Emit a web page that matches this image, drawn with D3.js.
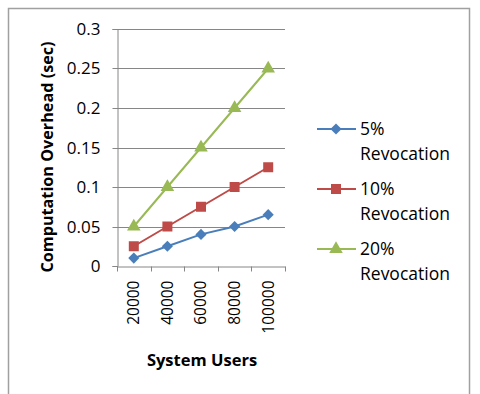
<!DOCTYPE html>
<html><head><meta charset="utf-8">
<script src="https://cdn.jsdelivr.net/npm/d3@7"></script>
<style>body{margin:0;background:#fff}svg{display:block}</style>
</head><body>
<svg id="c" width="480" height="394"></svg>
<script>
const categories = ["20000","40000","60000","80000","100000"];
const seriesNames = [["5%","Revocation"],["10%","Revocation"],["20%","Revocation"]];
const rev5 = [0.01,0.025,0.04,0.05,0.065];
const rev10 = [0.025,0.05,0.075,0.1,0.125];
const rev20 = [0.05,0.1,0.15,0.2,0.25];
const yTicks = [0,0.05,0.1,0.15,0.2,0.25,0.3];
const yTickLabels = ["0","0.05","0.1","0.15","0.2","0.25","0.3"];

const colors = ["#4A7EBB","#BE4B48","#98B954"];
const symbols = [d3.symbolSquare, d3.symbolSquare, d3.symbolTriangle];
const symSizes = [62, 100, 80];
const symRot = [45, 0, 0];
const font = "'Open Sans', sans-serif";

const svg = d3.select("#c");
svg.append("rect").attr("x",8.5).attr("y",8.5).attr("width",461).attr("height",400)
  .attr("fill","none").attr("stroke","#a0a0a0").attr("stroke-width",1.5);

const x = d3.scaleBand().domain(categories).range([117,285]);
const y = d3.scaleLinear().domain([0,0.3]).range([266,29]);

// gridlines
svg.append("g").selectAll("line").data(yTicks.slice(1)).join("line")
  .attr("x1",117).attr("x2",285).attr("y1",d=>Math.round(y(d))+0.5).attr("y2",d=>Math.round(y(d))+0.5)
  .attr("stroke","#868686").attr("stroke-width",1);

// y axis
const yAxis = d3.axisLeft(y).tickValues(yTicks).tickFormat((d,i)=>yTickLabels[i]).tickSize(5).tickPadding(12);
const gy = svg.append("g").attr("transform","translate(117.5,0)").call(yAxis);
gy.select(".domain").attr("stroke","#868686");
gy.selectAll(".tick line").attr("stroke","#868686");
gy.selectAll(".tick").attr("transform",d=>`translate(0,${Math.round(y(d))+0.5})`);
gy.selectAll("text").attr("font-family",font).attr("font-size",17).attr("fill","#000");

// x axis
const xAxis = d3.axisBottom(x).tickSize(0).tickFormat(d=>d);
const gx = svg.append("g").attr("transform","translate(0,266.5)").call(xAxis);
gx.select(".domain").attr("stroke","#868686");
gx.selectAll(".tick text").attr("font-family",font).attr("font-size",15.5).attr("fill","#000")
  .attr("transform","rotate(-90)").attr("text-anchor","end").attr("x",-14).attr("y",0).attr("dy","0.35em");
const bounds = categories.map(c=>x(c)).concat([x.range()[1]]);
gx.append("g").selectAll("line").data(bounds).join("line")
  .attr("x1",d=>Math.round(d)+0.5).attr("x2",d=>Math.round(d)+0.5).attr("y1",0).attr("y2",5).attr("stroke","#868686");

// series
const data = [rev5, rev10, rev20];
const line = d3.line().x((d,i)=>x(categories[i])+x.bandwidth()/2).y(d=>y(d));
data.forEach((s,k)=>{
  svg.append("path").datum(s).attr("d",line).attr("fill","none").attr("stroke",colors[k]).attr("stroke-width",2);
  svg.append("g").selectAll("path").data(s).join("path")
    .attr("d",d3.symbol().type(symbols[k]).size(symSizes[k]))
    .attr("transform",(d,i)=>`translate(${x(categories[i])+x.bandwidth()/2},${y(d)}) rotate(${symRot[k]})`)
    .attr("fill",colors[k]);
});

// axis titles
svg.append("text").attr("transform","translate(53,157) rotate(-90)").attr("text-anchor","middle")
  .attr("font-family",font).attr("font-weight","bold").attr("font-size",16.2).text("Computation Overhead (sec)");
svg.append("text").attr("x",202).attr("y",366).attr("text-anchor","middle")
  .attr("font-family",font).attr("font-weight","bold").attr("font-size",16.5).text("System Users");

// legend
const lg = svg.append("g");
seriesNames.forEach((nm,k)=>{
  const yy = 129 + k*60;
  lg.append("line").attr("x1",317).attr("x2",356).attr("y1",yy).attr("y2",yy).attr("stroke",colors[k]).attr("stroke-width",2);
  lg.append("path").attr("d",d3.symbol().type(symbols[k]).size(symSizes[k])).attr("transform",`translate(336,${yy}) rotate(${symRot[k]})`).attr("fill",colors[k]);
  const t = lg.append("text").attr("font-family",font).attr("font-size",17.5).attr("fill","#000");
  t.append("tspan").attr("x",360).attr("y",yy+6).text(nm[0]);
  t.append("tspan").attr("x",360).attr("y",yy+31).text(nm[1]);
});
</script>
</body></html>
